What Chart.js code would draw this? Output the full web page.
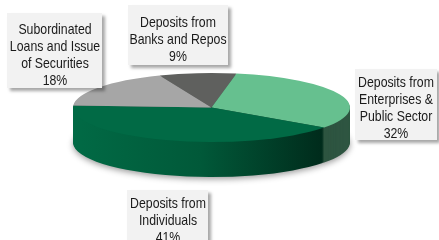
<!DOCTYPE html>
<html>
<head>
<meta charset="utf-8">
<script src="https://cdn.jsdelivr.net/npm/chart.js@4/dist/chart.umd.min.js"></script>
<style>
  html, body { margin: 0; padding: 0; background: #fff; }
  #wrap { position: relative; width: 439px; height: 240px; overflow: hidden; }
  #pie { position: absolute; left: 0; top: 0; }
  .lbl {
    position: absolute;
    box-sizing: border-box;
    background: #f2f2f2;
    box-shadow: 3px 3px 3px rgba(0, 0, 0, 0.35);
  }
  .txt {
    position: absolute;
    left: 50%;
    transform: translateX(-50%) scaleX(0.82);
    font-family: "Liberation Sans", Arial, sans-serif;
    font-size: 15px;
    line-height: 17px;
    color: #1a1a1a;
    text-align: center;
    white-space: pre;
  }
</style>
</head>
<body>
<div id="wrap">
  <canvas id="pie" width="439" height="240"></canvas>
</div>
<script>
// clockwise from the top
const categories = [
  'Deposits from\nBanks and Repos',
  'Deposits from\nEnterprises &\nPublic Sector',
  'Deposits from\nIndividuals',
  'Subordinated\nLoans and Issue\nof Securities',
];
const shares = [9, 32, 41, 18];
const topColors = ['#5f605e', '#66c08f', '#016a45', '#a6a6a6'];

// label boxes: left, top, width, height, text inset
const boxes = [
  [128, 5, 100, 60, 7.5],
  [355, 69, 82, 71, 3.5],
  [127, 190, 81, 60, 4],
  [7, 13, 95, 75, 6.5],
];

const DEPTH = 35;
const TILT = 0.249;

const pie3d = {
  id: 'pie3d',
  beforeDatasetsDraw(chart) {
    const ctx = chart.ctx;
    const arcs = chart.getDatasetMeta(0).data;
    const cx = arcs[0].x;
    const cy = arcs[0].y;
    const r = arcs[0].outerRadius;

    const grad = ctx.createLinearGradient(cx - r, 0, cx + r * 0.84, 0);
    grad.addColorStop(0, '#016a45');
    grad.addColorStop(0.5, '#015939');
    grad.addColorStop(1, '#00291a');
    const sideColors = ['#3d3e3c', '#2e5541', grad, '#6e6e6e'];

    function drawLayer(dy, colors, shadow) {
      ctx.save();
      if (shadow) {
        ctx.shadowColor = 'rgba(0, 0, 0, 0.4)';
        ctx.shadowBlur = 6;
        ctx.shadowOffsetY = 2;
      }
      ctx.translate(0, dy);
      ctx.translate(cx, cy);
      ctx.scale(1, TILT);
      ctx.translate(-cx, -cy);
      arcs.forEach((arc, i) => {
        const o = arc.options;
        arc.options = Object.assign({}, o, { backgroundColor: colors[i], borderWidth: 0 });
        arc.draw(ctx);
        arc.options = o;
      });
      ctx.restore();
    }

    drawLayer(DEPTH, sideColors, true);
    for (let d = DEPTH - 1; d > 0; d--) {
      drawLayer(d, sideColors, false);
    }
    drawLayer(0, topColors, false);
    return false;
  },
};

function labels() {
  const wrap = document.getElementById('wrap');
  categories.forEach((c, i) => {
    const b = boxes[i];
    const div = document.createElement('div');
    div.className = 'lbl';
    div.style.left = b[0] + 'px';
    div.style.top = b[1] + 'px';
    div.style.width = b[2] + 'px';
    div.style.height = b[3] + 'px';
    const txt = document.createElement('div');
    txt.className = 'txt';
    txt.style.top = b[4] + 'px';
    txt.textContent = c + '\n' + shares[i] + '%';
    div.appendChild(txt);
    wrap.appendChild(div);
  });
}

new Chart(document.getElementById('pie').getContext('2d'), {
  type: 'pie',
  data: {
    labels: categories,
    datasets: [{
      data: shares,
      backgroundColor: topColors,
      borderWidth: 0,
      radius: 138.5,
    }],
  },
  options: {
    responsive: false,
    animation: false,
    events: [],
    rotation: -22,
    layout: { padding: { left: 0, right: 16, top: 0, bottom: 25 } },
    plugins: {
      legend: { display: false },
      tooltip: { enabled: false },
    },
  },
  plugins: [pie3d],
});

labels();
</script>
</body>
</html>
